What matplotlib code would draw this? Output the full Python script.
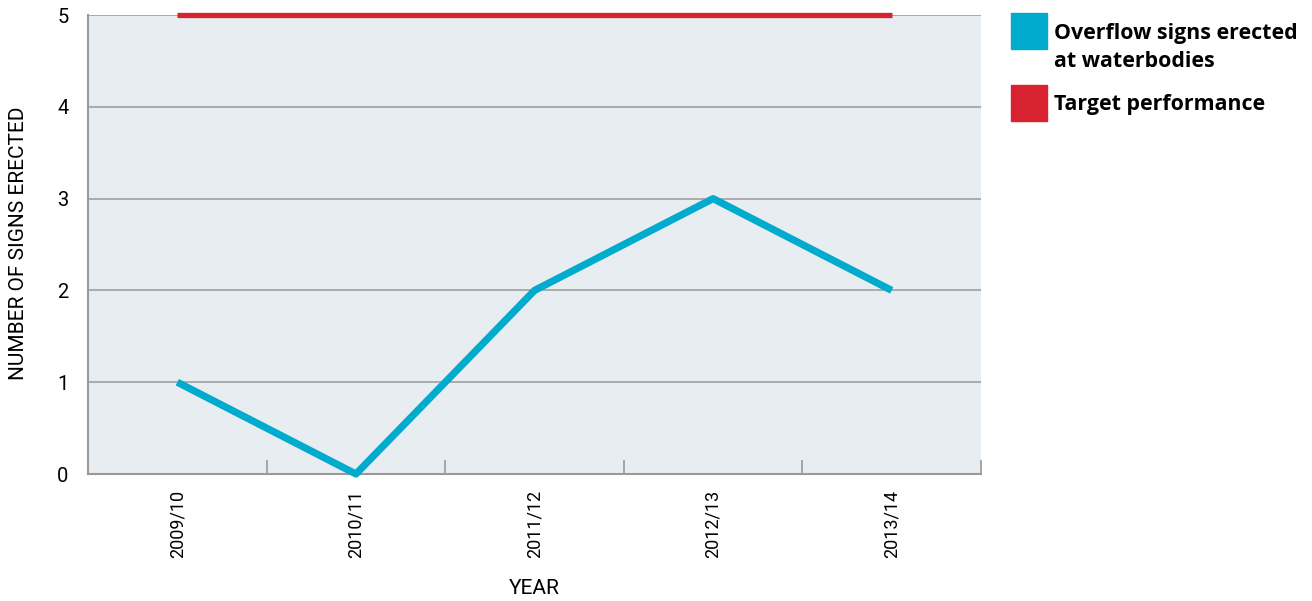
import matplotlib.pyplot as plt
from matplotlib.patches import Rectangle

# data
years = ["2009/10", "2010/11", "2011/12", "2012/13", "2013/14"]
signs = [1, 0, 2, 3, 2]
target = [5, 5, 5, 5, 5]

blue = "#00abcd"
red = "#d7232f"

plt.rcParams['font.family'] = ['Roboto', 'DejaVu Sans']

fig = plt.figure(figsize=(13.12, 6.01), dpi=100)
ax = fig.add_axes([0.0671, 0.2113, 0.6806, 0.7637])
ax.set_facecolor("#e8edf2")

x = list(range(len(years)))
ax.plot(x, target, color=red, lw=3.8, solid_capstyle="butt", zorder=3, clip_on=False)
ax.plot(x, signs, color=blue, lw=5.2, solid_capstyle="butt", zorder=4, clip_on=False)

ax.set_xlim(-0.5, 4.5)
ax.set_ylim(0, 5)
ax.set_yticks(range(6))
ax.yaxis.grid(True, color="#a0a0a0", lw=1.2)
ax.set_axisbelow(True)
ax.tick_params(axis="y", length=0, labelsize=14.5, pad=14)

# category boundary ticks pointing inward
ax.set_xticks([i + 0.5 for i in x])
ax.set_xticklabels([])
ax.tick_params(axis="x", direction="in", length=10, color="#999999", width=1.2)
for i, lab in enumerate(years):
    ax.text(i, -0.17, lab, rotation=90, ha="center", va="top", fontsize=13)

for s in ["top", "right"]:
    ax.spines[s].set_visible(False)
for s in ["left", "bottom"]:
    ax.spines[s].set_color("#999999")
    ax.spines[s].set_linewidth(1.5)

fig.text(0.014, 1 - 243 / 601, "NUMBER OF SIGNS ERECTED", rotation=90, ha="center", va="center", fontsize=15)
fig.text(0.407, 1 - 588 / 601, "YEAR", ha="center", va="center", fontsize=15)

# legend drawn by hand
fig.patches.append(Rectangle((1011 / 1312, 1 - 49 / 601), 36 / 1312, 36 / 601,
                             transform=fig.transFigure, color=blue))
fig.patches.append(Rectangle((1011 / 1312, 1 - 121 / 601), 36 / 1312, 36 / 601,
                             transform=fig.transFigure, color=red))
fig.text(1054 / 1312, 1 - 47.5 / 601, "Overflow signs erected\nat waterbodies", ha="left", va="center",
         fontsize=15.4, fontweight="bold", family="Open Sans", linespacing=1.45)
fig.text(1054 / 1312, 1 - 104 / 601, "Target performance", ha="left", va="center",
         fontsize=15.4, fontweight="bold", family="Open Sans")

fig.savefig("out.png", dpi=100)
